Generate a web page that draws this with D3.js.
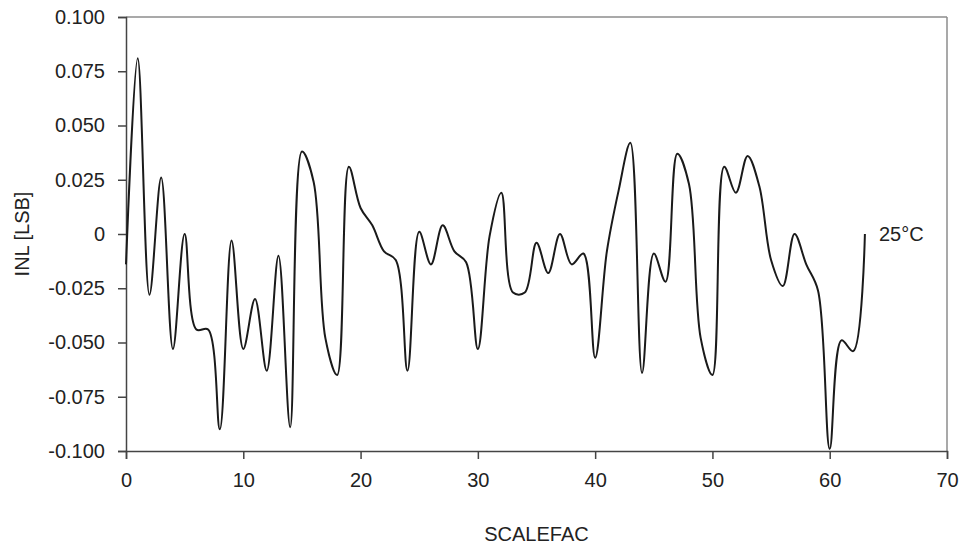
<!DOCTYPE html>
<html>
<head>
<meta charset="utf-8">
<script src="https://cdn.jsdelivr.net/npm/d3@7"></script>
<style>
  body { margin: 0; background: #fff; }
  text { font-family: "Liberation Sans", Arial, sans-serif; fill: #222; }
</style>
</head>
<body>
<div id="inlchart"></div>
<script>
// Data: INL per SCALEFAC code
var scalefac = d3.range(0, 64);
var inl = [-0.014, 0.081, -0.028, 0.026, -0.053, 0.000, -0.044, -0.044, -0.090, -0.003,
           -0.053, -0.030, -0.063, -0.010, -0.089, 0.038, 0.024, -0.048, -0.065, 0.031,
           0.012, 0.004, -0.008, -0.012, -0.063, 0.001, -0.014, 0.004, -0.008, -0.013,
           -0.053, -0.001, 0.019, -0.027, -0.027, -0.004, -0.018, 0.000, -0.014, -0.009,
           -0.057, -0.008, 0.020, 0.042, -0.064, -0.009, -0.022, 0.037, 0.023, -0.048,
           -0.065, 0.031, 0.019, 0.036, 0.022, -0.012, -0.024, 0.000, -0.014, -0.026,
           -0.099, -0.049, -0.054, 0.000];
var xTicks = [0, 10, 20, 30, 40, 50, 60, 70];
var yTicks = [-0.100, -0.075, -0.050, -0.025, 0, 0.025, 0.050, 0.075, 0.100];
var seriesLabel = "25°C";

var data = scalefac.map(function (d, i) { return { x: d, y: inl[i] }; });

// Setting up the margins and the graph area
var margin = { top: 17, right: 18, bottom: 97, left: 126 },
    width = 965 - margin.left - margin.right,
    height = 548 - margin.top - margin.bottom;

var svg = d3.select('#inlchart').append('svg')
    .attr('width', width + margin.left + margin.right)
    .attr('height', height + margin.top + margin.bottom)
    .append('g')
    .attr('transform', 'translate(' + margin.left + ',' + margin.top + ')');

// Scales
var x = d3.scaleLinear().domain([0, 70]).range([0, width]);
var y = d3.scaleLinear().domain([-0.1, 0.1]).range([height, 0]);

// Top and right frame lines (light grey)
svg.append("line")
    .attr("x1", 0).attr("x2", width).attr("y1", 0).attr("y2", 0)
    .attr("stroke", "#8c8c8c").attr("stroke-width", 1.5);
svg.append("line")
    .attr("x1", width).attr("x2", width).attr("y1", 0).attr("y2", height)
    .attr("stroke", "#8c8c8c").attr("stroke-width", 1.5);

// Axes
var xAxis = svg.append("g")
    .attr("transform", "translate(0," + height + ")")
    .call(d3.axisBottom(x).tickValues(xTicks).tickSize(8).tickPadding(14).tickFormat(d3.format("d")));
var yAxis = svg.append("g")
    .call(d3.axisLeft(y).tickValues(yTicks).tickSize(8).tickPadding(13)
        .tickFormat(function (d) { return d === 0 ? "0" : d3.format(".3f")(d).replace("−", "-"); }));

[xAxis, yAxis].forEach(function (a) {
    a.selectAll("path, line").attr("stroke", "#444").attr("stroke-width", 1.5);
    a.selectAll("text").style("font-size", "20px").attr("fill", "#222");
});

// Axis titles
svg.append("text")
    .attr("x", width / 2)
    .attr("y", height + 90)
    .attr("text-anchor", "middle")
    .style("font-size", "20px")
    .text("SCALEFAC");

svg.append("text")
    .attr("transform", "translate(" + (-97) + "," + (height / 2) + ") rotate(-90)")
    .attr("text-anchor", "middle")
    .style("font-size", "20px")
    .text("INL [LSB]");

// Smoothed INL line (centripetal spline keeps the peaks on the points)
var line = d3.line()
    .x(function (d) { return x(d.x); })
    .y(function (d) { return y(d.y); })
    .curve(d3.curveCatmullRom.alpha(0.5));

svg.append("path")
    .datum(data)
    .attr("fill", "none")
    .attr("stroke", "#1a1a1a")
    .attr("stroke-width", 2)
    .attr("d", line);

// Series label next to the line end
var last = data[data.length - 1];
svg.append("text")
    .attr("x", x(last.x) + 14)
    .attr("y", y(last.y) + 7)
    .style("font-size", "20px")
    .text(seriesLabel);
</script>
</body>
</html>
